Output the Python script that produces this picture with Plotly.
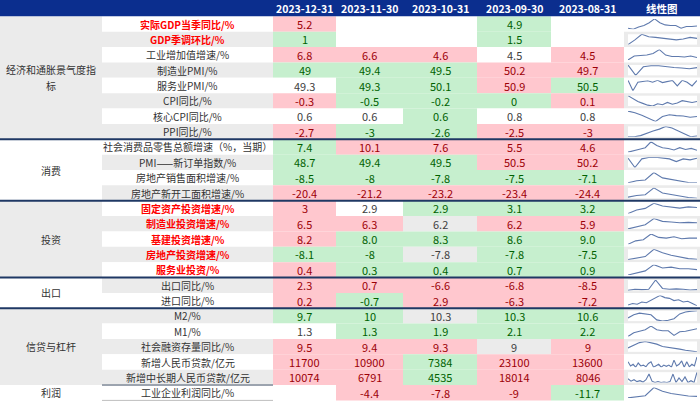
import plotly.graph_objects as go

# ---------------- data ----------------
dates = ["2023-12-31", "2023-11-30", "2023-10-31", "2023-09-30", "2023-08-31"]
spark_header = "线性图"

groups = ["经济和通胀景气度指标", "消费", "投资", "出口", "信贷与杠杆", "利润"]
group_sizes = [8, 4, 5, 2, 5, 1]

indicators = [
    "实际GDP当季同比/%", "GDP季调环比/%", "工业增加值增速/%", "制造业PMI/%",
    "服务业PMI/%", "CPI同比/%", "核心CPI同比/%", "PPI同比/%",
    "社会消费品零售总额增速（%，当期）", "PMI——新订单指数/%", "房地产销售面积增速/%", "房地产新开工面积增速/%",
    "固定资产投资增速/%", "制造业投资增速/%", "基建投资增速/%", "房地产投资增速/%", "服务业投资/%",
    "出口同比/%", "进口同比/%",
    "M2/%", "M1/%", "社会融资存量同比/%", "新增人民币贷款/亿元", "新增中长期人民币贷款/亿元",
    "工业企业利润同比/%",
]
key_indicator = [1, 1, 0, 0, 0, 0, 0, 0,
                 0, 0, 0, 0,
                 1, 1, 1, 1, 1,
                 0, 0,
                 0, 0, 0, 0, 0,
                 0]

v_1231 = ["5.2", "1", "6.8", "49", "49.3", "-0.3", "0.6", "-2.7",
          "7.4", "48.7", "-8.5", "-20.4",
          "3", "6.5", "8.2", "-8.1", "0.4",
          "2.3", "0.2",
          "9.7", "1.3", "9.5", "11700", "10074",
          ""]
v_1130 = ["", "", "6.6", "49.4", "49.3", "-0.5", "0.6", "-3",
          "10.1", "49.4", "-8", "-21.2",
          "2.9", "6.3", "8.0", "-8", "0.3",
          "0.7", "-0.7",
          "10", "1.3", "9.4", "10900", "6791",
          "-4.4"]
v_1031 = ["", "", "4.6", "49.5", "50.1", "-0.2", "0.6", "-2.6",
          "7.6", "49.5", "-7.8", "-23.2",
          "2.9", "6.2", "8.3", "-7.8", "0.4",
          "-6.6", "2.9",
          "10.3", "1.9", "9.3", "7384", "4535",
          "-7.8"]
v_0930 = ["4.9", "1.5", "4.5", "50.2", "50.9", "0", "0.8", "-2.5",
          "5.5", "50.5", "-7.5", "-23.4",
          "3.1", "6.2", "8.6", "-7.8", "0.7",
          "-6.8", "-6.3",
          "10.3", "2.1", "9", "23100", "18014",
          "-9"]
v_0831 = ["", "", "4.5", "49.7", "50.5", "0.1", "0.8", "-3",
          "4.6", "50.2", "-7.1", "-24.4",
          "3.2", "5.9", "9.0", "-7.5", "0.9",
          "-8.5", "-7.2",
          "10.6", "2.2", "9", "13600", "8046",
          "-11.7"]

# conditional-format signal: U = up (red), D = down (green), F = flat (grey), "" = none
s_1231 = ["U", "D", "U", "D", "", "U", "", "U",
          "D", "D", "D", "U",
          "U", "U", "U", "D", "U",
          "U", "U",
          "D", "", "U", "U", "U",
          ""]
s_1130 = ["", "", "U", "D", "D", "D", "", "D",
          "U", "D", "D", "U",
          "", "U", "D", "D", "D",
          "U", "D",
          "D", "D", "U", "U", "U",
          "U"]
s_1031 = ["", "", "U", "D", "D", "D", "D", "D",
          "U", "D", "D", "U",
          "D", "F", "D", "F", "D",
          "U", "U",
          "F", "D", "U", "D", "D",
          "U"]
s_0930 = ["D", "D", "", "U", "U", "D", "", "U",
          "U", "U", "D", "U",
          "D", "U", "D", "D", "D",
          "U", "U",
          "D", "D", "F", "U", "U",
          "U"]
s_0831 = ["", "", "U", "U", "D", "U", "", "U",
          "U", "U", "D", "U",
          "D", "U", "D", "D", "D",
          "U", "U",
          "D", "D", "U", "U", "U",
          "D"]

# sparkline histories
sp_gdp = [5, 3, 7, 10, 15, 22, 15, 11, 10, 10, 5, 8, 8, 9]
sp_gdp_qoq = [5, 20, 38, 30, 28, 26, 24, 20, 23, 28, 25]
sp_ip = [7, 15, 16, 17, 20, 28, 17, 14, 14, 13, 15, 12]
sp_mpmi = [40, 12, 35, 38, 38, 35, 33, 32, 30, 33]
sp_spmi = [35, 7, 30, 33, 34, 30, 35, 29, 33, 35, 20, 35, 30, 20, 35]
sp_cpi = [35, 28, 22, 18, 14, 12, 17, 15, 20, 16, 19, 24, 22, 20, 22]
sp_core = [33, 29, 23, 15, 8, 20, 24, 22, 21, 18, 20]
sp_ppi = [5, 5, 8, 15, 20, 25, 32, 28, 20, 12, 5, 7]
sp_retail = [10, 15, 18, 22, 38, 28, 22, 20, 16, 22, 17, 20, 15]
sp_neworder = [35, 8, 33, 37, 38, 35, 33, 25, 33, 30, 35]
sp_sales = [11, 16, 18, 36, 23, 19, 15, 12, 11]
sp_starts = [10, 15, 17, 37, 22, 17, 12, 9, 7]
sp_fai = [3, 15, 20, 37, 28, 25, 21, 25, 23]
sp_mfg = [7, 14, 19, 37, 29, 27, 25, 26, 25]
sp_infra = [7, 17, 20, 37, 27, 25, 29, 23, 25, 25]
sp_re = [6, 11, 15, 36, 26, 19, 13, 9, 7]
sp_svc = [5, 10, 15, 30, 22, 24, 20, 20, 18]
sp_exp = [9, 12, 11, 12, 36, 14, 12, 13, 12, 10, 11]
sp_imp = [10, 14, 12, 18, 16, 22, 28, 36, 30, 28, 22, 24, 18, 20, 14, 8]
sp_m2 = [16, 24, 28, 26, 24, 11, 8, 10, 14, 26, 31, 33, 34]
sp_m1 = [7, 14, 17, 20, 27, 20, 18, 18, 9, 16, 17, 19, 22]
sp_tsf = [16, 23, 30, 33, 30, 26, 20, 18, 16, 13, 10, 8, 6]
sp_loans = [22, 12, 16, 9, 19, 12, 14, 10, 18, 22, 9, 12, 16, 9, 14, 11, 14, 9, 26,
            12, 16, 24, 9, 22, 10, 16, 12, 34]
sp_mlt = [20, 15, 18, 14, 16, 13, 18, 30, 15, 12, 14, 12, 13, 12, 14, 30, 12, 22,
          14, 24, 12, 16, 12, 34]
sp_profit = [8, 11, 14, 36, 26, 20, 16, 13, 12]

# ---------------- layout constants ----------------
W, H = 700, 404
col_edges = [0, 102, 273, 336, 403, 477, 551, 624, 700]
HEADER_H = 16.4
ROW_H = 15.36
WRAP_AT = 9
LINE_GAP = 16

HEADER_BG = "#0b2e8e"
GRAY = "#ebebeb"
WHITE = "#ffffff"
PINK, PINK_TXT = "#ffc7ce", "#9c0006"
GREEN, GREEN_TXT = "#c6efce", "#006100"
NEUTRAL_TXT = "#404040"
LABEL_TXT = "#333333"
KEY_TXT = "#ff0000"
SEP = "#1f3864"
SPARK = "#5f7aad"
FONT = "Microsoft YaHei, Noto Sans CJK SC, sans-serif"

value_cols = [v_1231, v_1130, v_1031, v_0930, v_0831]
signal_cols = [s_1231, s_1130, s_1031, s_0930, s_0831]
sparks = [sp_gdp, sp_gdp_qoq, sp_ip, sp_mpmi, sp_spmi, sp_cpi, sp_core, sp_ppi,
          sp_retail, sp_neworder, sp_sales, sp_starts,
          sp_fai, sp_mfg, sp_infra, sp_re, sp_svc,
          sp_exp, sp_imp,
          sp_m2, sp_m1, sp_tsf, sp_loans, sp_mlt,
          sp_profit]

fill_map = {"U": PINK, "D": GREEN, "F": GRAY, "": WHITE}
txt_map = {"U": PINK_TXT, "D": GREEN_TXT, "F": NEUTRAL_TXT, "": NEUTRAL_TXT}

n_rows = len(indicators)
row_top = [HEADER_H + i * ROW_H for i in range(n_rows)]
row_mid = [t + ROW_H / 2 for t in row_top]

shapes, annotations = [], []


def rect(x0, x1, y0, y1, color):
    shapes.append(dict(type="rect", xref="x", yref="y", x0=x0, x1=x1, y0=y0, y1=y1,
                       fillcolor=color, line=dict(width=0), layer="below"))


def text(x, y, s, color, size=10.5, bold=False):
    if bold:
        s = "<b>" + s + "</b>"
    annotations.append(dict(xref="x", yref="y", x=x, y=y, text=s, showarrow=False,
                            xanchor="center", yanchor="middle",
                            font=dict(family=FONT, size=size, color=color)))


# header
rect(0, W, 0, HEADER_H, HEADER_BG)
for j, d in enumerate(dates):
    text((col_edges[2 + j] + col_edges[3 + j]) / 2, HEADER_H / 2 + 0.3, d, "white", 10.5, True)
text((col_edges[7] + col_edges[8]) / 2, HEADER_H / 2 + 0.3, spark_header, "white", 10.5, True)

# group column
start = 0
group_start = []
for g, n in enumerate(group_sizes):
    group_start.append(start)
    y0 = row_top[start]
    y1 = row_top[start + n - 1] + ROW_H
    rect(col_edges[0], col_edges[1], y0, y1, GRAY if g % 2 == 0 else WHITE)
    label = groups[g]
    cx = (col_edges[0] + col_edges[1]) / 2
    cy = (y0 + y1) / 2
    if len(label) > WRAP_AT:
        text(cx, cy - LINE_GAP / 2, label[:WRAP_AT], LABEL_TXT, 10)
        text(cx, cy + LINE_GAP / 2, label[WRAP_AT:], LABEL_TXT, 10)
    else:
        text(cx, cy, label, LABEL_TXT, 10)
    start += n

# rows
for i in range(n_rows):
    band = WHITE if i % 2 == 0 else GRAY
    rect(col_edges[1], col_edges[2], row_top[i], row_top[i] + ROW_H, band)
    rect(col_edges[7], col_edges[8], row_top[i], row_top[i] + ROW_H, band)
    if key_indicator[i]:
        text((col_edges[1] + col_edges[2]) / 2, row_mid[i], indicators[i], KEY_TXT, 10, True)
    else:
        text((col_edges[1] + col_edges[2]) / 2, row_mid[i], indicators[i], LABEL_TXT, 10)
    for j in range(5):
        sig = signal_cols[j][i]
        rect(col_edges[2 + j], col_edges[3 + j], row_top[i], row_top[i] + ROW_H, fill_map[sig])
        if value_cols[j][i] != "":
            text((col_edges[2 + j] + col_edges[3 + j]) / 2, row_mid[i], value_cols[j][i],
                 txt_map[sig], 11)

# group separators
for g in range(1, len(group_sizes) - 1):
    y = row_top[group_start[g]]
    shapes.append(dict(type="line", xref="x", yref="y", x0=0, x1=W, y0=y, y1=y,
                       line=dict(color=SEP, width=2)))
y = row_top[group_start[-1]]
shapes.append(dict(type="line", xref="x", yref="y", x0=col_edges[1], x1=col_edges[2],
                   y0=y, y1=y, line=dict(color="#44546a", width=1)))
yb = row_top[-1] + ROW_H
shapes.append(dict(type="line", xref="x", yref="y", x0=col_edges[1], x1=col_edges[2],
                   y0=yb, y1=yb, line=dict(color="#bfbfbf", width=1)))

fig = go.Figure()

layout_axes = {}
for i, vals in enumerate(sparks):
    k = i + 2
    xd = [(col_edges[7] + 4) / W, (col_edges[8] - 3) / W]
    top = row_top[i] + 2.5
    bot = row_top[i] + ROW_H - 2.5
    yd = [1 - bot / H, 1 - top / H]
    fig.add_trace(go.Scatter(x=list(range(len(vals))), y=vals, mode="lines",
                             line=dict(color=SPARK, width=1.1), hoverinfo="skip",
                             showlegend=False, xaxis=f"x{k}", yaxis=f"y{k}"))
    layout_axes[f"xaxis{k}"] = dict(domain=xd, visible=False, range=[0, len(vals) - 1],
                                    anchor=f"y{k}", fixedrange=True)
    layout_axes[f"yaxis{k}"] = dict(domain=yd, visible=False, anchor=f"x{k}",
                                    range=[min(vals), max(vals)], fixedrange=True)

fig.update_layout(
    width=W, height=H,
    margin=dict(l=0, r=0, t=0, b=0),
    paper_bgcolor="white", plot_bgcolor="white",
    xaxis=dict(range=[0, W], visible=False, domain=[0, 1], fixedrange=True),
    yaxis=dict(range=[H, 0], visible=False, domain=[0, 1], fixedrange=True),
    shapes=shapes, annotations=annotations, showlegend=False,
    **layout_axes,
)

fig.write_html("out.html", config={"displayModeBar": False},
               post_script="document.body.style.margin='0';document.body.style.overflow='hidden';")
